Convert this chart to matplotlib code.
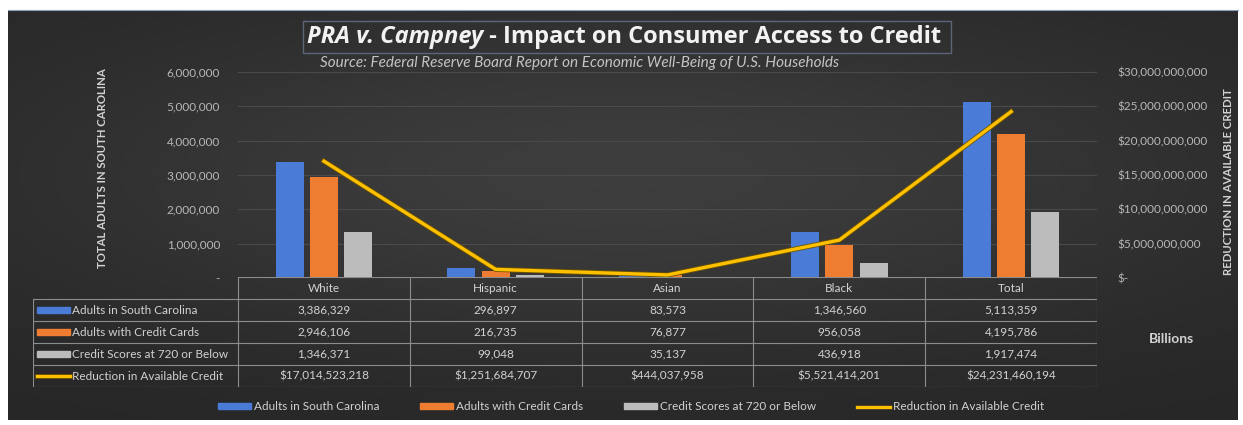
import numpy as np
import matplotlib.pyplot as plt
import matplotlib.patheffects as pe
from matplotlib.patches import Rectangle
from matplotlib.lines import Line2D

plt.rcParams['font.family'] = ['Lato', 'DejaVu Sans']

categories = ["White", "Hispanic", "Asian", "Black", "Total"]
adults_sc = [3386329, 296897, 83573, 1346560, 5113359]
adults_cards = [2946106, 216735, 76877, 956058, 4195786]
scores_720 = [1346371, 99048, 35137, 436918, 1917474]
credit_reduction = [17014523218, 1251684707, 444037958, 5521414201, 24231460194]

series_names = ["Adults in South Carolina", "Adults with Credit Cards",
                "Credit Scores at 720 or Below", "Reduction in Available Credit"]
left_ticks = [0, 1000000, 2000000, 3000000, 4000000, 5000000, 6000000]
right_ticks = [0, 5e9, 10e9, 15e9, 20e9, 25e9, 30e9]

blue, orange, grey, gold = "#4a7bd6", "#ee7d31", "#bcbcbc", "#ffc000"
txt = "#d2d2d2"

W, H = 1243, 425


def px(x0, y0, x1, y1):
    # pixel box (top-left origin) -> figure fraction
    return [x0 / W, 1 - y1 / H, (x1 - x0) / W, (y1 - y0) / H]


fig = plt.figure(figsize=(W / 100, H / 100), dpi=100)
fig.patch.set_facecolor("white")

# dark panel with soft gradient
bg = fig.add_axes(px(8, 10, 1238, 420), zorder=-10)
yy, xx = np.mgrid[-1:1:200j, -1:1:600j]
glow = np.exp(-(xx ** 2 * 1.0 + (yy + 0.2) ** 2 * 1.4))
shade = 0.15 + 0.09 * glow
bg.imshow(np.dstack([shade, shade, shade * 1.01]).clip(0, 1), aspect="auto")
bg.set_xticks([])
bg.set_yticks([])
for s in bg.spines.values():
    s.set_visible(False)
bg.spines["top"].set_visible(True)
bg.spines["top"].set_color("#8da0b8")

ax = fig.add_axes(px(238, 72, 1097, 278))
ax.patch.set_alpha(0)
x = np.arange(len(categories))
bw = 0.163
ax.bar(x - 0.2, adults_sc, bw, color=blue, label=series_names[0])
ax.bar(x, adults_cards, bw, color=orange, label=series_names[1])
ax.bar(x + 0.2, scores_720, bw, color=grey, label=series_names[2])
ax.set_xlim(-0.5, 4.5)
ax.set_ylim(0, 6000000)
ax.set_xticks([])
ax.set_yticks(left_ticks)
ax.set_yticklabels(["-" if v == 0 else f"{v:,.0f}" for v in left_ticks])
ax.yaxis.grid(True, color="#4a4a4a", lw=0.8)
ax.set_axisbelow(True)
ax.tick_params(axis="y", length=0, pad=13, labelsize=8.5, labelcolor="#b8b8b8")
for s in ax.spines.values():
    s.set_visible(False)

ax2 = ax.twinx()
ax2.plot(x, credit_reduction, color=gold, lw=2.4, solid_joinstyle="round",
         path_effects=[pe.Stroke(linewidth=3.6, foreground="#6e5500"), pe.Normal()])
ax2.set_ylim(0, 30e9)
ax2.set_yticks(right_ticks)
ax2.set_yticklabels(["$-" if v == 0 else f"${v:,.0f}" for v in right_ticks])
ax2.tick_params(axis="y", length=0, pad=15, labelsize=8.5, labelcolor="#b8b8b8")
for s in ax2.spines.values():
    s.set_visible(False)

fig.text(102 / W, 1 - 168 / H, "TOTAL ADULTS IN SOUTH CAROLINA", rotation=90,
         ha="center", va="center", fontsize=8.2, fontweight="bold", color=txt)
fig.text(1229 / W, 1 - 182 / H, "REDUCTION IN AVAILABLE CREDIT", rotation=90,
         ha="center", va="center", fontsize=8.2, fontweight="bold", color=txt)
fig.text(1171 / W, 1 - 339 / H, "Billions", ha="center", va="center",
         fontsize=10, fontweight="bold", color=txt)

# data table under the plot
tax = fig.add_axes(px(33, 277, 1097, 387))
lab_w = 205 / 171.8
left = -0.5 - lab_w
tax.set_xlim(left, 4.5)
tax.set_ylim(5, 0)
tax.axis("off")
lc = dict(color="#8c8c8c", lw=0.8)
tax.plot([-0.5, 4.5], [0, 0], **lc)
for r in range(1, 6):
    tax.plot([left, 4.5], [r, r], **lc)
for c in np.arange(-0.5, 5, 1):
    tax.plot([c, c], [0, 5], **lc)
tax.plot([left, left], [1, 5], **lc)

fs = 8.5
for i, name in enumerate(categories):
    tax.text(i, 0.5, name, ha="center", va="center", fontsize=fs, color=txt)
rows = [adults_sc, adults_cards, scores_720]
for r, vals in enumerate(rows):
    for i, v in enumerate(vals):
        tax.text(i, r + 1.5, f"{v:,}", ha="center", va="center", fontsize=fs, color=txt)
for i, v in enumerate(credit_reduction):
    tax.text(i, 4.5, f"${v:,}", ha="center", va="center", fontsize=fs, color=txt)

key_x = left + 4 / 171.8
key_w = 33 / 171.8
for r, col in enumerate([blue, orange, grey]):
    tax.add_patch(Rectangle((key_x, r + 1.36), key_w, 0.28, color=col))
tax.plot([key_x, key_x + key_w], [4.5, 4.5], color=gold, lw=2.2,
         path_effects=[pe.Stroke(linewidth=3.4, foreground="#6e5500"), pe.Normal()])
for r, name in enumerate(series_names):
    tax.text(key_x + key_w + 0.01, r + 1.5, name, ha="left", va="center",
             fontsize=fs, color=txt)

# title block
tfont = ["Open Sans", "DejaVu Sans"]
t1 = fig.text(307 / W, 1 - 37 / H, "PRA v. Campney", ha="left", va="center",
              fontsize=17, fontweight="bold", fontstyle="italic", color="#f2f2f2",
              family=tfont)
fig.canvas.draw()
bb = t1.get_window_extent()
fig.text(bb.x1 / W, 1 - 37 / H, " - Impact on Consumer Access to Credit", ha="left",
         va="center", fontsize=17, fontweight="bold", color="#f2f2f2", family=tfont)
fig.patches.append(Rectangle((303 / W, 1 - 53 / H), (951 - 303) / W, 32 / H,
                             transform=fig.transFigure, fill=False,
                             edgecolor="#5b6678", lw=1))
fig.text(320 / W, 1 - 63 / H,
         "Source: Federal Reserve Board Report on Economic Well-Being of U.S. Households",
         ha="left", va="center", fontsize=11, fontstyle="italic", color="#c4c4c4")

handles = [Rectangle((0, 0), 1, 1, color=blue), Rectangle((0, 0), 1, 1, color=orange),
           Rectangle((0, 0), 1, 1, color=grey), Line2D([0], [0], color=gold, lw=2.4)]
fig.legend(handles, series_names, loc="center", bbox_to_anchor=(631 / W, 1 - 407 / H),
           ncol=4, frameon=False, fontsize=8.5, labelcolor=txt, handlelength=2.8,
           handleheight=0.45, columnspacing=3.4, handletextpad=0.3)

fig.savefig("out.png", dpi=100, facecolor=fig.get_facecolor())
